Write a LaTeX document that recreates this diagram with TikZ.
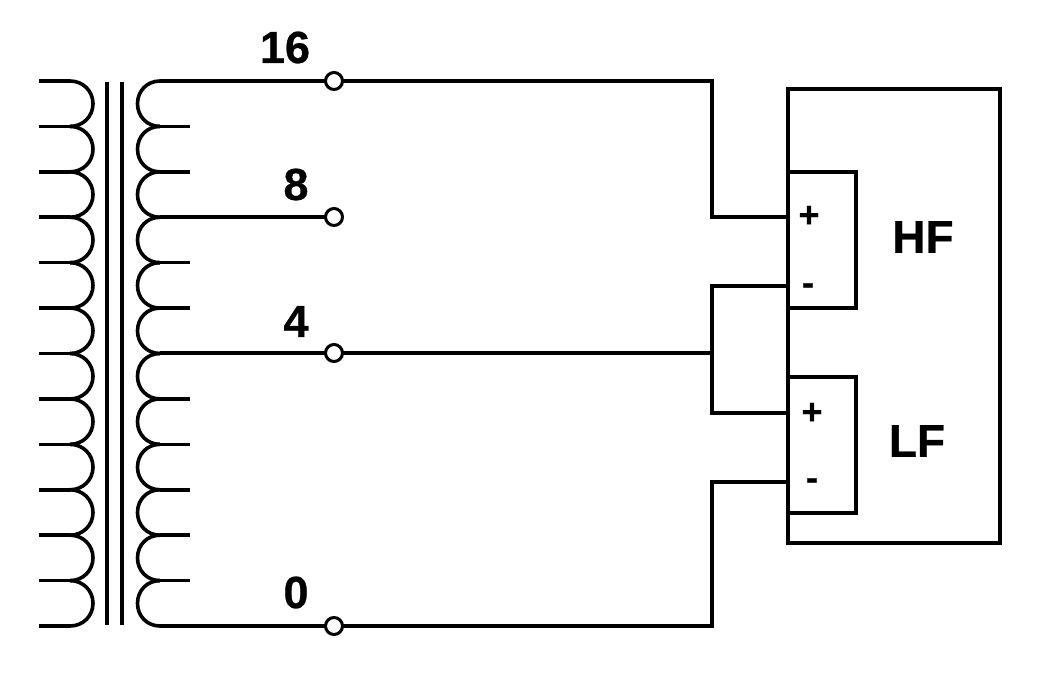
\documentclass[tikz,border=0pt]{standalone}
\usepackage{fontspec}
\setmainfont[BoldFeatures={FakeBold=0.6}]{Liberation Sans}
\begin{document}
\begin{tikzpicture}[x=1pt,y=-1pt,
  wire/.style={line width=3.6pt,line join=miter,black},
  coil/.style={line width=3.6pt,black},
  corebar/.style={line width=4pt,black},
  box/.style={draw=black,line width=4pt,fill=white,inner sep=0pt,outer sep=0pt},
  terminal/.style={circle,draw=black,line width=3pt,fill=white,minimum size=17pt,inner sep=0pt,outer sep=0pt},
  tapnum/.style={inner sep=0pt,font=\bfseries\fontsize{45}{45}\selectfont},
  unitname/.style={inner sep=0pt,font=\bfseries\fontsize{46}{46}\selectfont},
  polarity/.style={inner sep=0pt,font=\bfseries\fontsize{36}{36}\selectfont}]
\useasboundingbox[fill=white] (0,0) rectangle (1037,673);
% speaker boxes
\node[box,minimum width=212pt,minimum height=454pt] (spk) at (894,316) {};
\node[box,minimum width=68pt,minimum height=136pt] (hf) at (822,240) {};
\node[box,minimum width=68pt,minimum height=136pt] (lf) at (822,445) {};
\draw[line width=4pt] (spk.north west) -- (spk.south west);
% core
\coordinate (c1a) at (107,82); \coordinate (c1b) at (107,625);
\coordinate (c2a) at (122,82); \coordinate (c2b) at (122,625);
\draw[corebar] (c1a) -- (c1b);
\draw[corebar] (c2a) -- (c2b);
% windings
\foreach \i in {0,...,11}{
  \pgfmathsetmacro{\ya}{81+45.417*\i}
  \pgfmathsetmacro{\yb}{81+45.417*(\i+1)}
  \coordinate (la) at (70,\ya); \coordinate (lb) at (70,\yb);
  \coordinate (ra) at (160,\ya); \coordinate (rb) at (160,\yb);
  \draw[coil] (la) .. controls (83,\ya) and (93,{\ya+10}) .. (93,{(\ya+\yb)/2}) .. controls (93,{\yb-10}) and (83,\yb) .. (lb);
  \draw[coil] (ra) .. controls (147,\ya) and (137.5,{\ya+10}) .. (137.5,{(\ya+\yb)/2}) .. controls (137.5,{\yb-10}) and (147,\yb) .. (rb);
}
\foreach \i in {0,...,12}{
  \pgfmathsetmacro{\ya}{81+45.417*\i}
  \coordinate (pl) at (39,\ya); \coordinate (pr) at (70,\ya);
  \draw[coil] (pl) -- (pr);
}
\foreach \i in {1,2,4,5,7,8,9,10,11}{
  \pgfmathsetmacro{\ya}{81+45.417*\i}
  \coordinate (sl) at (160,\ya); \coordinate (sr) at (190,\ya);
  \draw[coil] (sl) -- (sr);
}
% taps and terminals
\coordinate (tap16) at (160,81);
\coordinate (tap8) at (160,217);
\coordinate (tap4) at (160,353);
\coordinate (tap0) at (160,626);
\node[terminal] (t16) at (334,81) {};
\node[terminal] (t8) at (334,217) {};
\node[terminal] (t4) at (334,353) {};
\node[terminal] (t0) at (334,626) {};
\draw[wire] (tap16) -- (t16);
\draw[wire] (tap8) -- (t8);
\draw[wire] (tap4) -- (t4);
\draw[wire] (tap0) -- (t0);
% speaker terminals
\coordinate (hfp) at (788,217);
\coordinate (hfm) at (788,286);
\coordinate (lfp) at (788,413);
\coordinate (lfm) at (788,482);
\coordinate (j16) at (712,81);
\coordinate (j4) at (712,353);
\coordinate (j0) at (712,626);
\draw[wire] (t16) -- (j16) |- (hfp);
\draw[wire] (hfm) -| (712,413) -- (lfp);
\draw[wire] (t4) -- (j4);
\draw[wire] (t0) -- (j0) |- (lfm);
% labels
\node[tapnum] (l16) at (285,47.5) {16};
\node[tapnum] (l8) at (296,184.5) {8};
\node[tapnum] (l4) at (296,321.5) {4};
\node[tapnum] (l0) at (296,592.5) {0};
\node[unitname] (lhf) at (923,237) {HF};
\node[unitname] (llf) at (917,441) {LF};
\node[polarity] (hplus) at (809,216.5) {+};
\node[polarity] (hminus) at (808,289) {-};
\node[polarity] (lplus) at (812,413.5) {+};
\node[polarity] (lminus) at (812,484) {-};
\end{tikzpicture}
\end{document}
